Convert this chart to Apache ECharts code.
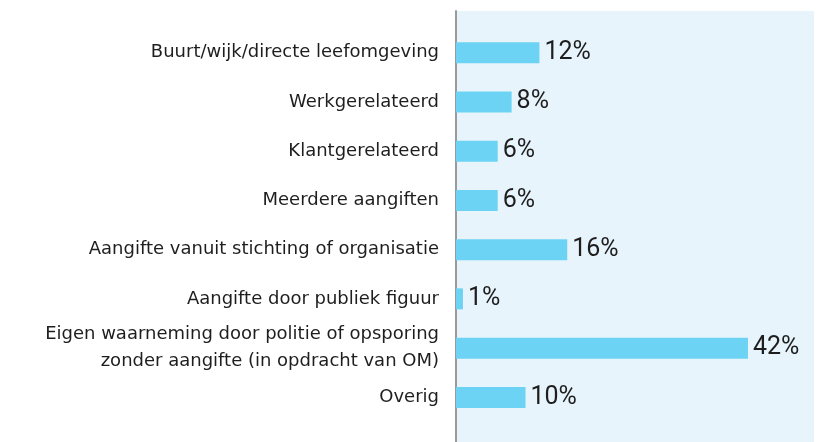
<!DOCTYPE html>
<html>
<head>
<meta charset="utf-8">
<script src="https://cdn.jsdelivr.net/npm/echarts@6/dist/echarts.min.js"></script>
<style>
  html, body { margin: 0; padding: 0; background: #fff; }
  #chart { width: 818px; height: 442px; }
</style>
</head>
<body>
<div id="chart"></div>
<script>
// categories, top to bottom
var categories = [
  'Buurt/wijk/directe leefomgeving',
  'Werkgerelateerd',
  'Klantgerelateerd',
  'Meerdere aangiften',
  'Aangifte vanuit stichting of organisatie',
  'Aangifte door publiek figuur',
  'Eigen waarneming door politie of opsporing\nzonder aangifte (in opdracht van OM)',
  'Overig'
];
// percentages
var values = [12, 8, 6, 6, 16, 1, 42, 10];

var chart = echarts.init(document.getElementById('chart'));

chart.setOption({
  animation: false,
  textStyle: { fontFamily: 'Roboto' },
  grid: [
    // background panel + axis line
    { left: 456, right: 4, top: 11, bottom: 0, show: true, backgroundColor: '#e8f4fc', borderWidth: 0 },
    // bars
    { left: 456, right: 4, top: 28, bottom: 20 }
  ],
  xAxis: [
    { gridIndex: 0, type: 'value', min: 0, max: 1, show: false },
    { gridIndex: 1, type: 'value', min: 0, max: 51.5, show: false }
  ],
  yAxis: [
    {
      gridIndex: 0, type: 'value', min: 0, max: 1,
      axisLine: { show: true, lineStyle: { color: '#9a9a9a', width: 2 } },
      axisTick: { show: false }, axisLabel: { show: false }, splitLine: { show: false }
    },
    {
      gridIndex: 1, type: 'category', data: categories, inverse: true,
      axisLine: { show: false }, axisTick: { show: false }, splitLine: { show: false },
      axisLabel: {
        margin: 17, fontSize: 18, fontFamily: 'DejaVu Sans', color: '#1e1e1e',
        align: 'right', lineHeight: 27
      }
    }
  ],
  series: [{
    type: 'bar',
    xAxisIndex: 1,
    yAxisIndex: 1,
    data: values,
    barWidth: 21,
    itemStyle: { color: '#6cd3f4' },
    label: {
      show: true,
      position: 'right',
      distance: 5,
      formatter: '{c}%',
      fontSize: 25,
      color: '#1e1e1e'
    }
  }]
});
</script>
</body>
</html>
